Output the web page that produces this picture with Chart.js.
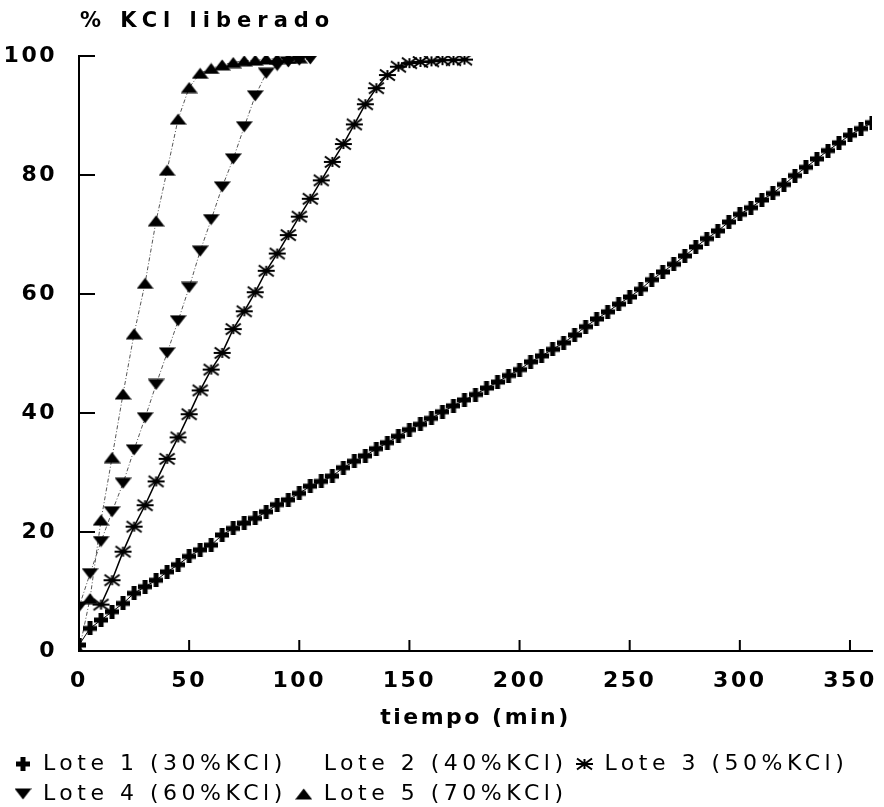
<!DOCTYPE html>
<html lang="es">
  <head>
    <meta charset="UTF-8" />
    <title>% KCl liberado</title>
    <script src="https://cdn.jsdelivr.net/npm/chart.js"></script>
    <style>
      html,
      body {
        margin: 0;
        padding: 0;
        background: #fff;
      }
      #wrap {
        width: 884px;
        height: 807px;
        position: relative;
      }
    </style>
  </head>
  <body>
    <div id="wrap"><canvas id="kclChart"></canvas></div>

    <script>
      // tiempo (min) and % KCl liberado
      const lote1Time = [
        0, 5, 10, 15, 20, 25, 30, 35, 40, 45, 50, 55, 60, 65, 70, 75, 80, 85, 90,
        95, 100, 105, 110, 115, 120, 125, 130, 135, 140, 145, 150, 155, 160, 165,
        170, 175, 180, 185, 190, 195, 200, 205, 210, 215, 220, 225, 230, 235, 240,
        245, 250, 255, 260, 265, 270, 275, 280, 285, 290, 295, 300, 305, 310, 315,
        320, 325, 330, 335, 340, 345, 350, 355, 360,
      ];
      const lote1Kcl = [
        1.0, 3.8, 5.2, 6.6, 8.0, 9.7, 10.8, 11.9, 13.3, 14.5, 15.9, 17.0, 17.8,
        19.5, 20.6, 21.5, 22.3, 23.4, 24.6, 25.4, 26.5, 27.7, 28.5, 29.4, 30.8,
        31.9, 32.8, 34.0, 35.0, 36.1, 37.2, 38.1, 39.1, 40.2, 41.2, 42.2, 43.1,
        44.2, 45.2, 46.3, 47.3, 48.6, 49.6, 50.7, 51.8, 53.1, 54.5, 55.8, 57.0,
        58.3, 59.5, 60.8, 62.4, 63.7, 65.0, 66.4, 67.9, 69.3, 70.6, 72.1, 73.4,
        74.5, 75.8, 76.9, 78.4, 79.9, 81.3, 82.7, 84.1, 85.4, 86.7, 87.8, 88.8,
      ];

      // Lote 2 shows up only in the legend
      const lote2Time = [];
      const lote2Kcl = [];

      const lote3Time = [
        10, 15, 20, 25, 30, 35, 40, 45, 50, 55, 60, 65, 70, 75, 80, 85, 90, 95,
        100, 105, 110, 115, 120, 125, 130, 135, 140, 145, 150, 155, 160, 165, 170,
        175,
      ];
      const lote3Kcl = [
        7.8, 11.9, 16.7, 20.9, 24.5, 28.5, 32.3, 35.9, 39.8, 43.8, 47.3, 50.1,
        54.1, 57.1, 60.3, 63.9, 66.8, 69.9, 73.0, 76.0, 79.1, 82.2, 85.2, 88.5,
        91.9, 94.6, 96.8, 98.2, 98.8, 99.0, 99.1, 99.3, 99.3, 99.4,
      ];

      const lote4Time = [
        0, 5, 10, 15, 20, 25, 30, 35, 40, 45, 50, 55, 60, 65, 70, 75, 80, 85, 90,
        95, 100, 105,
      ];
      const lote4Kcl = [
        7.4, 13.0, 18.4, 23.4, 28.2, 33.8, 39.2, 44.8, 50.1, 55.5, 61.1, 67.2,
        72.5, 78.0, 82.7, 88.1, 93.3, 97.1, 98.4, 99.0, 99.3, 99.5,
      ];

      const lote5Time = [
        0, 5, 10, 15, 20, 25, 30, 35, 40, 45, 50, 55, 60, 65, 70, 75, 80, 85, 90,
        95, 100,
      ];
      const lote5Kcl = [
        0.0, 8.8, 22.0, 32.5, 43.2, 53.3, 61.8, 72.3, 80.8, 89.4, 94.7, 97.1,
        97.9, 98.5, 98.9, 99.2, 99.3, 99.5, 99.5, 99.6, 99.7,
      ];

      const xTicks = [0, 50, 100, 150, 200, 250, 300, 350];
      const yTicks = [0, 20, 40, 60, 80, 100];

      const FONT = '"DejaVu Sans", sans-serif';

      function toPoints(times, values) {
        return times.map((t, i) => ({ x: t, y: values[i] }));
      }

      // flat triangles like the printed markers
      function triangleMarker(down) {
        const c = document.createElement("canvas");
        c.width = 17;
        c.height = 12;
        const g = c.getContext("2d");
        g.fillStyle = "#000";
        g.beginPath();
        if (down) {
          g.moveTo(0, 0.5);
          g.lineTo(17, 0.5);
          g.lineTo(8.5, 11.5);
        } else {
          g.moveTo(0, 11.5);
          g.lineTo(17, 11.5);
          g.lineTo(8.5, 0.5);
        }
        g.closePath();
        g.fill();
        return c;
      }

      function asteriskMarker() {
        const c = document.createElement("canvas");
        c.width = 19;
        c.height = 14;
        const g = c.getContext("2d");
        g.strokeStyle = "#000";
        g.lineWidth = 2;
        g.beginPath();
        g.moveTo(1, 7);
        g.lineTo(18, 7);
        g.moveTo(2, 1.5);
        g.lineTo(17, 12.5);
        g.moveTo(2, 12.5);
        g.lineTo(17, 1.5);
        g.moveTo(9.5, 2);
        g.lineTo(9.5, 12);
        g.stroke();
        return c;
      }

      // heavy plus used for Lote 1
      function plusMarker() {
        const c = document.createElement("canvas");
        c.width = 14;
        c.height = 14;
        const g = c.getContext("2d");
        g.fillStyle = "#000";
        g.fillRect(0, 4.5, 14, 5);
        g.fillRect(4.5, 0, 5, 14);
        return c;
      }

      // wider text, as in the printed figure
      const spacing = {
        id: "spacing",
        beforeUpdate(chart) {
          const lg = chart.legend;
          if (lg && !lg._spaced) {
            lg._spaced = true;
            ["fit", "draw"].forEach((fn) => {
              const orig = lg[fn].bind(lg);
              lg[fn] = (...args) => {
                const prev = chart.ctx.letterSpacing;
                chart.ctx.letterSpacing = "4.5px";
                const r = orig(...args);
                chart.ctx.letterSpacing = prev;
                return r;
              };
            });
          }
          chart.ctx.letterSpacing = "2.5px";
        },
        beforeDraw(chart) {
          chart.ctx.letterSpacing = "2.5px";
        },
      };

      // inward tick marks and the y title on top
      const axisDecor = {
        id: "axisDecor",
        afterDraw(chart) {
          const { ctx, chartArea, scales } = chart;
          ctx.save();
          ctx.strokeStyle = "#000";
          ctx.lineWidth = 2;
          ctx.beginPath();
          scales.y.ticks.forEach((t) => {
            const py = scales.y.getPixelForValue(t.value);
            ctx.moveTo(chartArea.left, py);
            ctx.lineTo(chartArea.left + 16, py);
          });
          scales.x.ticks.forEach((t) => {
            if (t.value === 0) return;
            const px = scales.x.getPixelForValue(t.value);
            ctx.moveTo(px, chartArea.bottom);
            ctx.lineTo(px, chartArea.bottom - 11);
          });
          ctx.stroke();
          ctx.fillStyle = "#000";
          ctx.font = "bold 21px " + FONT;
          ctx.letterSpacing = "6px";
          ctx.textBaseline = "middle";
          ctx.textAlign = "left";
          ctx.fillText("% KCl liberado", chartArea.left + 1, 22);
          ctx.restore();
        },
      };

      const ctx = document.getElementById("kclChart").getContext("2d");
      new Chart(ctx, {
        type: "line",
        data: {
          datasets: [
            {
              label: "Lote 1 (30%KCl)",
              data: toPoints(lote1Time, lote1Kcl),
              borderColor: "#000",
              backgroundColor: "#000",
              borderWidth: 1,
              pointStyle: plusMarker(),
            },
            {
              label: "Lote 2 (40%KCl)",
              data: toPoints(lote2Time, lote2Kcl),
              borderColor: "transparent",
              backgroundColor: "transparent",
              pointRadius: 0,
            },
            {
              label: "Lote 3 (50%KCl)",
              data: toPoints(lote3Time, lote3Kcl),
              borderColor: "#000",
              backgroundColor: "#000",
              borderWidth: 1.5,
              pointStyle: asteriskMarker(),
            },
            {
              label: "Lote 4 (60%KCl)",
              data: toPoints(lote4Time, lote4Kcl),
              borderColor: "#555",
              backgroundColor: "#000",
              borderWidth: 1,
              borderDash: [4, 2, 1, 2],
              pointStyle: triangleMarker(true),
            },
            {
              label: "Lote 5 (70%KCl)",
              data: toPoints(lote5Time, lote5Kcl),
              borderColor: "#555",
              backgroundColor: "#000",
              borderWidth: 1,
              borderDash: [4, 2, 1, 2],
              pointStyle: triangleMarker(false),
            },
          ],
        },
        options: {
          responsive: true,
          maintainAspectRatio: false,
          animation: false,
          layout: {
            padding: { left: 6, right: 12, top: 56, bottom: -8 },
          },
          scales: {
            x: {
              type: "linear",
              min: 0,
              max: 360,
              afterBuildTicks: (axis) => {
                axis.ticks = xTicks.map((v) => ({ value: v }));
              },
              afterFit: (axis) => {
                axis.height = 94;
                axis.paddingLeft = 0;
                axis.paddingRight = 0;
              },
              grid: { display: false },
              border: { display: true, color: "#000", width: 2 },
              ticks: {
                color: "#000",
                padding: 9,
                maxRotation: 0,
                font: { family: FONT, size: 22, weight: "bold" },
              },
              title: {
                display: true,
                text: "tiempo (min)",
                color: "#000",
                padding: { top: 6, bottom: 14 },
                font: { family: FONT, size: 22, weight: "bold" },
              },
            },
            y: {
              type: "linear",
              min: 0,
              max: 100,
              afterBuildTicks: (axis) => {
                axis.ticks = yTicks.map((v) => ({ value: v }));
              },
              afterFit: (axis) => {
                axis.width = 73;
              },
              grid: { display: false },
              border: { display: true, color: "#000", width: 2 },
              ticks: {
                color: "#000",
                padding: 14,
                font: { family: FONT, size: 22, weight: "bold" },
              },
            },
          },
          plugins: {
            legend: {
              position: "bottom",
              align: "start",
              labels: {
                color: "#000",
                usePointStyle: true,
                boxWidth: 18,
                padding: 8,
                font: { family: FONT, size: 22 },
              },
            },
            tooltip: { enabled: false },
          },
        },
        plugins: [spacing, axisDecor],
      });
    </script>
  </body>
</html>
